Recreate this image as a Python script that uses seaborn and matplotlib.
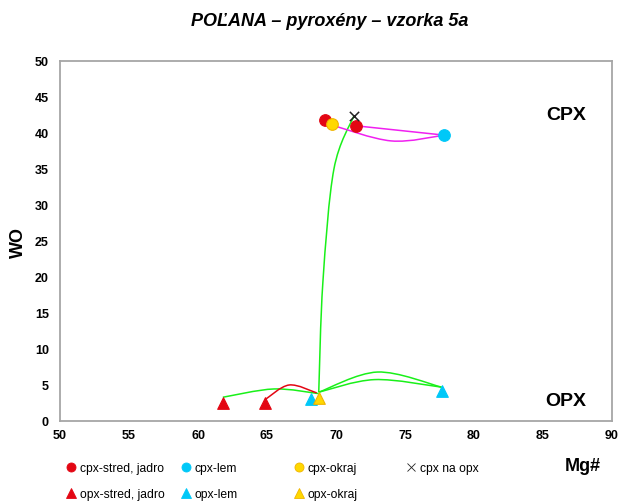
import numpy as np
import pandas as pd
import matplotlib
matplotlib.use("Agg")
import matplotlib.pyplot as plt
from matplotlib.path import Path
from matplotlib.patches import PathPatch
from matplotlib.lines import Line2D
import seaborn as sns

# --- measured points (Mg#, WO) ---
cpx_stred_mg = [69.2, 71.45]
cpx_stred_wo = [41.8, 41.0]
cpx_lem_mg = [77.85]
cpx_lem_wo = [39.7]
cpx_okraj_mg = [69.7]
cpx_okraj_wo = [41.2]
cpx_na_opx_mg = [71.3]
cpx_na_opx_wo = [42.4]
opx_stred_mg = [61.8, 64.85]
opx_stred_wo = [2.45, 2.45]
opx_lem_mg = [68.2, 77.65]
opx_lem_wo = [3.0, 4.1]
opx_okraj_mg = [68.75]
opx_okraj_wo = [3.25]

# --- smoothed connecting lines (Mg#, WO) ---
green_a_mg = [61.8, 65.5, 68.75]
green_a_wo = [3.3, 4.45, 3.8]
red_a_mg = [64.85, 66.6, 68.6]
red_a_wo = [2.95, 5.0, 3.9]
green_up_mg = [68.75, 69.05, 69.85, 71.3]
green_up_wo = [4.0, 19.3, 35.0, 42.4]
green_hi_mg = [68.75, 73.0, 77.65]
green_hi_wo = [4.0, 6.8, 4.7]
green_lo_mg = [68.75, 72.8, 77.65]
green_lo_wo = [4.0, 5.75, 4.7]
magenta_a_mg = [71.45, 77.85]
magenta_a_wo = [41.0, 39.7]
magenta_b_mg = [77.85, 74.0, 69.7]
magenta_b_wo = [39.7, 38.9, 41.1]

x_ticks = [50, 55, 60, 65, 70, 75, 80, 85, 90]
y_ticks = [0, 5, 10, 15, 20, 25, 30, 35, 40, 45, 50]

RED = "#e30613"
CYAN = "#00c8f8"
YELLOW = "#ffd800"
YELLOW_EDGE = "#f0b400"
GREEN = "#19f019"
MAGENTA = "#f020f0"

sns.set_style("white")
plt.rcParams["font.family"] = ["Liberation Sans", "DejaVu Sans"]
plt.rcParams["text.color"] = "black"
plt.rcParams["xtick.color"] = "black"
plt.rcParams["ytick.color"] = "black"

fig = plt.figure(figsize=(6.2, 5.02), dpi=100)
ax = fig.add_axes([60 / 620, 1 - 422 / 502, 552 / 620, 360 / 502])
ax.set_xlim(50, 90)
ax.set_ylim(0, 50)


def smooth_path(xs, ys):
    """Cardinal (Catmull-Rom) spline through the points as cubic Beziers."""
    p = np.column_stack([xs, ys]).astype(float)
    n = len(p)
    verts = [p[0]]
    codes = [Path.MOVETO]
    for i in range(n - 1):
        p0 = p[i - 1] if i > 0 else p[i]
        p1, p2 = p[i], p[i + 1]
        p3 = p[i + 2] if i + 2 < n else p[i + 1]
        verts += [p1 + (p2 - p0) / 6, p2 - (p3 - p1) / 6, p2]
        codes += [Path.CURVE4] * 3
    return Path(verts, codes)


lines = [
    (green_a_mg, green_a_wo, GREEN),
    (red_a_mg, red_a_wo, RED),
    (green_up_mg, green_up_wo, GREEN),
    (green_hi_mg, green_hi_wo, GREEN),
    (green_lo_mg, green_lo_wo, GREEN),
    (magenta_a_mg, magenta_a_wo, MAGENTA),
    (magenta_b_mg, magenta_b_wo, MAGENTA),
]
for xs, ys, col in lines:
    ax.add_patch(PathPatch(smooth_path(xs, ys), facecolor="none",
                           edgecolor=col, lw=1.1, zorder=2))

groups = [
    ("cpx-stred, jadro", cpx_stred_mg, cpx_stred_wo, "o", RED, RED),
    ("opx-stred, jadro", opx_stred_mg, opx_stred_wo, "^", RED, RED),
    ("cpx-lem", cpx_lem_mg, cpx_lem_wo, "o", CYAN, CYAN),
    ("opx-lem", opx_lem_mg, opx_lem_wo, "^", CYAN, CYAN),
    ("cpx-okraj", cpx_okraj_mg, cpx_okraj_wo, "o", YELLOW, YELLOW_EDGE),
    ("opx-okraj", opx_okraj_mg, opx_okraj_wo, "^", YELLOW, YELLOW_EDGE),
]
for name, mg, wo, mk, fc, ec in groups:
    df = pd.DataFrame({"Mg#": mg, "WO": wo})
    sns.scatterplot(data=df, x="Mg#", y="WO", marker=mk, color=fc,
                    edgecolor=ec, linewidth=0.8, s=70, ax=ax, zorder=3,
                    legend=False)
df_x = pd.DataFrame({"Mg#": cpx_na_opx_mg, "WO": cpx_na_opx_wo})
sns.scatterplot(data=df_x, x="Mg#", y="WO", marker="x", color="#222222",
                linewidth=1.1, s=45, ax=ax, zorder=4, legend=False)

ax.set_xticks(x_ticks)
ax.set_yticks(y_ticks)
ax.tick_params(length=0, labelsize=9, pad=6, colors="black")
ax.tick_params(axis="y", pad=8)
for lab in ax.get_xticklabels() + ax.get_yticklabels():
    lab.set_fontweight("bold")
ax.set_xlabel("")
ax.set_ylabel("")
for sp in ax.spines.values():
    sp.set_color("#a6a6a6")
    sp.set_linewidth(1.3)

ax.text(0.917, 0.85, "CPX", transform=ax.transAxes, fontsize=14,
        fontweight="bold", ha="center", va="center", color="black")
ax.text(0.917, 0.056, "OPX", transform=ax.transAxes, fontsize=14,
        fontweight="bold", ha="center", va="center", color="black")

fig.text(0.532, 1 - 22 / 502, "POĽANA – pyroxény – vzorka 5a", fontsize=13,
         fontweight="bold", fontstyle="italic", ha="center", va="center")
fig.text(18 / 620, 1 - 243 / 502, "WO", fontsize=13, fontweight="bold",
         rotation=90, ha="center", va="center")
fig.text(583 / 620, 1 - 467 / 502, "Mg#", fontsize=13, fontweight="bold",
         ha="center", va="center")

# legend: one column at a time
def handle(mk, fc, ec, ms=6.5):
    return Line2D([], [], ls="none", marker=mk, markerfacecolor=fc,
                  markeredgecolor=ec, markersize=ms, markeredgewidth=0.6)

columns = [
    (75, [(handle("o", RED, RED), "cpx-stred, jadro"),
          (handle("^", RED, RED), "opx-stred, jadro")]),
    (190, [(handle("o", CYAN, CYAN), "cpx-lem"),
           (handle("^", CYAN, CYAN), "opx-lem")]),
    (303, [(handle("o", YELLOW, YELLOW_EDGE), "cpx-okraj"),
           (handle("^", YELLOW, YELLOW_EDGE), "opx-okraj")]),
    (415, [(handle("x", "#222222", "#222222", 6), "cpx na opx")]),
]
for xpix, items in columns:
    fig.legend([h for h, _ in items], [t for _, t in items],
               loc="upper left",
               bbox_to_anchor=((xpix - 9) / 620, 1 - 463 / 502),
               frameon=False, fontsize=8.7, handlelength=0.8,
               handletextpad=0.35, labelspacing=1.2,
               borderpad=0, borderaxespad=0, labelcolor="black")

fig.savefig("out.png", dpi=100)
